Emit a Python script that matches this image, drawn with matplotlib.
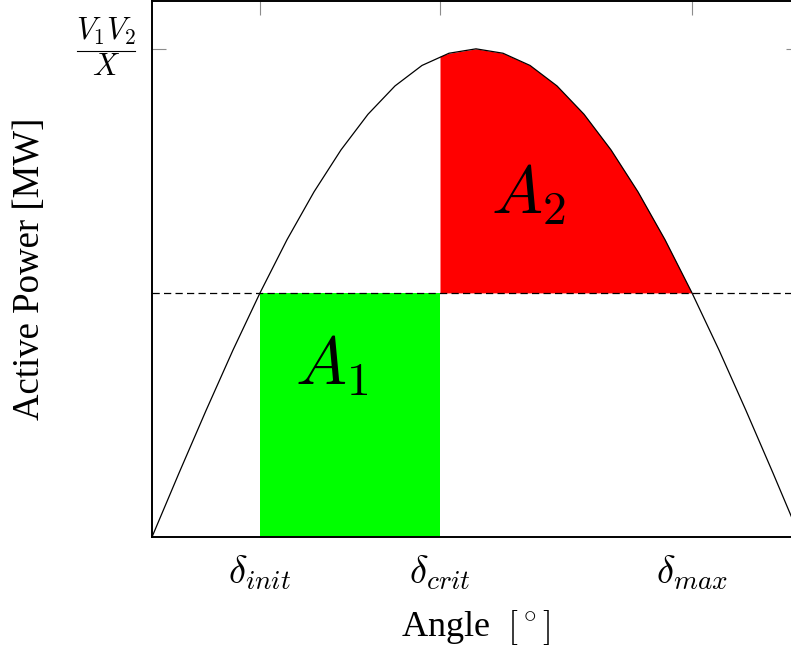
import matplotlib
matplotlib.use("Agg")
import matplotlib.pyplot as plt
from matplotlib.lines import Line2D
from matplotlib.transforms import blended_transform_factory, offset_copy

# Power-angle curve samples (degrees, per-unit of V1V2/X)
angles = [0, 7.5, 15, 22.5, 30, 37.5, 45, 52.5, 60, 67.5, 75, 82.5, 90,
          97.5, 105, 112.5, 120, 127.5, 135, 142.5, 150, 157.5, 165, 172.5, 180]
power = [0.0, 0.131, 0.259, 0.383, 0.5, 0.609, 0.707, 0.793, 0.866, 0.924,
         0.966, 0.991, 1.0, 0.991, 0.966, 0.924, 0.866, 0.793, 0.707, 0.609,
         0.5, 0.383, 0.259, 0.131, 0.0]

mech_power = 0.5
peak_power = 1.0
delta_init = 30
delta_crit = 80
delta_max = 150
crit_power = 0.985

tick_angles = [delta_init, delta_crit, delta_max]
tick_labels = [r"$\delta_{init}$", r"$\delta_{crit}$", r"$\delta_{max}$"]
peak_num = r"$V_1V_2$"
peak_den = r"$X$"

plt.rcParams["mathtext.fontset"] = "cm"
plt.rcParams["font.family"] = ["Liberation Serif", "DejaVu Serif"]

fig = plt.figure(figsize=(7.91, 6.5), dpi=100)
ax = fig.add_axes([152 / 791, 1 - 537 / 650, 648 / 791, 536 / 650])

# accelerating area A1
ax.fill_between([delta_init, delta_crit], 0, mech_power, color="#00ff00",
                linewidth=0, zorder=1)

# decelerating area A2
red_x = [delta_crit] + [a for a in angles if delta_crit < a <= delta_max]
red_y = [crit_power] + [p for a, p in zip(angles, power) if delta_crit < a <= delta_max]
ax.fill_between(red_x, mech_power, red_y, color="#ff0000", linewidth=0, zorder=1)

ax.plot(angles, power, color="black", linewidth=0.9, zorder=3)
ax.axhline(mech_power, color="black", linewidth=0.9, dashes=(5.8, 3.4), zorder=3)

ax.text(50, 0.35, r"$A_1$", fontsize=49, ha="center", va="center", zorder=4)
ax.text(104.5, 0.70, r"$A_2$", fontsize=49, ha="center", va="center", zorder=4)

ax.set_xlim(0, 180)
ax.set_ylim(0, 1.098)

ax.set_xticks(tick_angles)
ax.set_xticklabels(tick_labels, fontsize=28)
ax.set_yticks([peak_power])
ax.set_yticklabels([""])

# compact stacked fraction as the y tick label
ytrans = blended_transform_factory(ax.transAxes, ax.transData)
num_tr = offset_copy(ytrans, fig=fig, x=-46, y=2, units="dots")
den_tr = offset_copy(ytrans, fig=fig, x=-46, y=-4, units="dots")
ax.text(0, peak_power, peak_num, transform=num_tr, fontsize=22,
        ha="center", va="bottom", clip_on=False)
ax.text(0, peak_power, peak_den, transform=den_tr, fontsize=22,
        ha="center", va="top", clip_on=False)
ax.add_line(Line2D([-29 / 648, 29 / 648], [peak_power, peak_power],
                   transform=offset_copy(ytrans, fig=fig, x=-46, y=-2, units="dots"),
                   color="black", linewidth=0.8, clip_on=False))

ax.tick_params(axis="x", bottom=False, top=True, labelbottom=True,
               direction="in", length=10, width=0.8, color="#8c8c8c", pad=12)
ax.tick_params(axis="y", left=True, right=True, direction="in",
               length=10, width=0.8, color="#8c8c8c", pad=12)

for s in ax.spines.values():
    s.set_linewidth(1.4)
    s.set_color("black")
    s.set_zorder(5)

ax.set_xlabel(r"Angle  $[^\circ]$", fontsize=26, labelpad=11)
ax.set_ylabel("Active Power [MW]", fontsize=26.5)
ax.yaxis.set_label_coords(-0.162, 0.5)

fig.savefig("out.png", dpi=100)
